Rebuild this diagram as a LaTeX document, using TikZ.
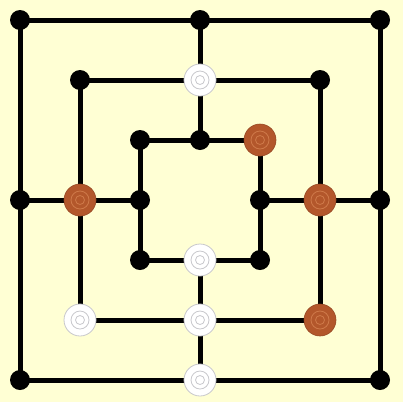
\documentclass[tikz,border=0pt]{standalone}
\usepackage{xcolor}
\usepackage{tikz}
\usetikzlibrary{shapes,positioning,calc}

\definecolor{boardbg}{HTML}{FFFFD4}
\definecolor{brownpc}{HTML}{B3572B}
\definecolor{brownring}{HTML}{CF7A4A}
\definecolor{whitering}{HTML}{C8C8CC}

\begin{document}
\begin{tikzpicture}[
    x=1pt, y=-1pt,
    dot/.style={circle, fill=black, inner sep=0pt, minimum size=20pt},
    line/.style={line width=5pt, black},
    whitepc/.style={circle, fill=white, draw=whitering, line width=0.8pt, inner sep=0pt, minimum size=32pt},
    brownpiece/.style={circle, fill=brownpc, draw=brownpc!85!black, line width=0.6pt, inner sep=0pt, minimum size=32pt}
]
% Board background
\fill[boardbg] (0,0) rectangle (403,402);
\useasboundingbox (0,0) rectangle (403,402);

% Points of the three squares
\foreach \r/\a/\b in {o/20/380, m/80/320, i/140/260} {
    \coordinate (\r1) at (\a,\a);
    \coordinate (\r2) at (200,\a);
    \coordinate (\r3) at (\b,\a);
    \coordinate (\r4) at (\b,200);
    \coordinate (\r5) at (\b,\b);
    \coordinate (\r6) at (200,\b);
    \coordinate (\r7) at (\a,\b);
    \coordinate (\r8) at (\a,200);
}

% Squares
\foreach \r in {o,m,i} {
    \draw[line] (\r1) -- (\r3) -- (\r5) -- (\r7) -- cycle;
}
% Cross lines
\draw[line] (o2) -- (i2);
\draw[line] (o4) -- (i4);
\draw[line] (o6) -- (i6);
\draw[line] (o8) -- (i8);

% Dots
\foreach \r in {o,m,i} {
    \foreach \k in {1,...,8} {
        \node[dot] (d\r\k) at (\r\k) {};
    }
}

% White pieces
\foreach \p in {m2,i6,m7,m6,o6} {
    \node[whitepc] (w\p) at (\p) {};
    \draw[whitering, line width=0.8pt] (\p) circle (9pt) (\p) circle (4.5pt);
}
% Brown pieces
\foreach \p in {i3,m8,m4,m5} {
    \node[brownpiece] (b\p) at (\p) {};
    \draw[brownring, line width=0.8pt] (\p) circle (9pt) (\p) circle (4.5pt);
}
\end{tikzpicture}
\end{document}
